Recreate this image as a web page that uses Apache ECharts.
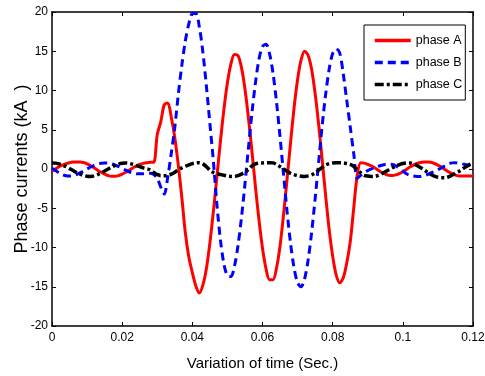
<!DOCTYPE html>
<html>
<head>
<meta charset="utf-8">
<script src="https://cdn.jsdelivr.net/npm/echarts@6/dist/echarts.min.js"></script>
<style>
html,body{margin:0;padding:0;background:#fff;}
#chart{width:485px;height:376px;}
</style>
</head>
<body>
<div id="chart"></div>
<script>
// time in milliseconds
const timeMs = [0,1,2,3,4,5,6,7,8,9,10,11,12,13,14,15,16,17,18,19,20,21,22,23,24,25,26,27,28,29,30,31,32,33,34,35,36,37,38,39,40,41,42,43,44,45,46,47,48,49,50,51,52,53,54,55,56,57,58,59,60,61,62,63,64,65,66,67,68,69,70,71,72,73,74,75,76,77,78,79,80,81,82,83,84,85,86,87,88,89,90,91,92,93,94,95,96,97,98,99,100,101,102,103,104,105,106,107,108,109,110,111,112,113,114,115,116,117,118,119,120];

const phaseA = [-0.3,0.0,0.3,0.5,0.68,0.8,0.88,0.9,0.9,0.82,
  0.65,0.42,0.15,-0.15,-0.42,-0.65,-0.83,-0.93,-0.93,-0.83,
  -0.65,-0.42,-0.15,0.12,0.38,0.58,0.72,0.8,0.85,0.85,
  4.4,6.0,8.2,8.4,6.6,4.0,0.5,-3.6,-8.1,-11.2,
  -13.2,-14.9,-15.8,-14.8,-12.7,-9.45,-5.4,-1.0,3.5,7.6,
  11.0,13.4,14.6,14.45,12.95,10.2,6.5,2.2,-2.3,-6.5,
  -10.1,-12.7,-14.1,-14.1,-12.6,-9.8,-5.8,-1.3,3.4,7.8,
  11.4,13.9,15.0,14.5,12.7,9.6,5.7,1.2,-3.4,-7.7,
  -11.1,-13.5,-14.5,-13.9,-12.0,-9.3,-5.0,-0.8,0.8,0.75,
  0.6,0.4,0.15,-0.15,-0.45,-0.65,-0.8,-0.82,-0.75,-0.6,
  -0.35,-0.05,0.25,0.5,0.7,0.82,0.88,0.9,0.85,0.7,
  0.5,0.25,-0.05,-0.35,-0.6,-0.78,-0.88,-0.9,-0.9,-0.9,-0.9];

const phaseB = [0.1,-0.2,-0.5,-0.72,-0.87,-0.9,-0.85,-0.7,-0.5,-0.25,
  0.0,0.25,0.47,0.63,0.73,0.77,0.75,0.65,0.5,0.3,
  0.08,-0.15,-0.35,-0.5,-0.6,-0.62,-0.6,-0.55,-0.55,-0.7,
  -1.2,-2.3,-3.2,-1.0,2.0,5.3,9.5,13.2,16.3,18.5,
  19.8,19.8,18.1,14.9,10.6,5.8,1.0,-4.5,-9.0,-12.1,
  -13.6,-13.7,-12.4,-9.8,-6.2,-1.9,2.7,7.2,11.0,14.0,
  15.6,15.9,14.7,12.2,8.5,4.1,-0.7,-5.4,-9.5,-12.6,
  -14.5,-15.0,-14.0,-11.6,-8.1,-3.8,0.85,5.5,9.5,12.7,
  14.7,15.3,14.8,12.2,8.8,5.4,2.0,-1.2,-0.8,-0.45,
  -0.2,0.0,0.2,0.35,0.48,0.58,0.62,0.58,0.4,0.1,
  -0.25,-0.6,-0.8,-0.9,-0.95,-0.95,-0.88,-0.7,-0.5,-0.3,
  -0.1,0.15,0.4,0.65,0.78,0.8,0.75,0.65,0.55,0.45,0.35];

const phaseC = [0.77,0.75,0.65,0.5,0.3,0.05,-0.2,-0.45,-0.65,-0.82,
  -0.92,-0.94,-0.88,-0.72,-0.5,-0.25,0.0,0.25,0.47,0.63,
  0.74,0.77,0.72,0.6,0.45,0.3,0.15,0.02,-0.1,-0.45,
  -0.7,-0.85,-0.85,-0.8,-0.65,-0.4,-0.1,0.15,0.35,0.52,
  0.68,0.77,0.8,0.65,0.3,-0.15,-0.45,-0.6,-0.7,-0.8,
  -0.9,-0.94,-0.94,-0.85,-0.65,-0.4,-0.05,0.4,0.65,0.75,
  0.77,0.8,0.8,0.78,0.6,0.3,0.0,-0.3,-0.55,-0.72,
  -0.85,-0.92,-0.94,-0.88,-0.75,-0.5,-0.15,0.2,0.5,0.68,
  0.77,0.8,0.8,0.78,0.7,0.6,0.35,-0.1,-0.5,-0.8,
  -0.9,-0.94,-0.94,-0.8,-0.6,-0.35,-0.1,0.15,0.38,0.55,
  0.7,0.77,0.77,0.65,0.45,0.2,-0.1,-0.4,-0.7,-0.9,
  -1.05,-1.12,-1.12,-1.0,-0.8,-0.5,-0.3,0.0,0.3,0.55,0.75];

const seriesNames = ['phase A','phase B','phase C'];
const xTitle = 'Variation of time (Sec.)';
const yTitle = 'Phase currents (kA  )';

function pairs(vals){ return timeMs.map((t,i)=>[t/1000, vals[i]]); }

const FONT = '"Liberation Sans", Arial, sans-serif';
const chart = echarts.init(document.getElementById('chart'), null, {renderer:'canvas'});

const axisCommon = {
  axisLine:{show:true, onZero:false, lineStyle:{color:'#000', width:1.5}},
  axisTick:{show:true, inside:true, length:4, lineStyle:{color:'#000', width:1}},
  splitLine:{show:false},
  nameMoveOverlap:false
};

chart.setOption({
  animation:false,
  backgroundColor:'#fff',
  grid:{left:52, right:12, top:12, bottom:50, containLabel:false, outerBoundsMode:'none'},
  legend:{
    orient:'vertical', left:364, top:25,
    backgroundColor:'#fff',
    borderColor:'#000', borderWidth:1,
    padding:[9,3,9,9],
    itemWidth:36, itemHeight:14, itemGap:9,
    itemStyle:{opacity:0},
    lineStyle:{width:3.5},
    textStyle:{fontFamily:FONT, fontSize:12.5, color:'#000'},
    data:seriesNames
  },
  xAxis:[
    Object.assign({type:'value', min:0, max:0.12, interval:0.02, position:'bottom',
      name:xTitle, nameLocation:'middle', nameGap:30,
      nameTextStyle:{fontFamily:FONT, fontSize:15, color:'#000'},
      axisLabel:{fontFamily:FONT, fontSize:12, color:'#000', margin:6}}, axisCommon),
    Object.assign({type:'value', min:0, max:0.12, interval:0.02, position:'top',
      axisLabel:{show:false}}, axisCommon)
  ],
  yAxis:[
    Object.assign({type:'value', min:-20, max:20, interval:5, position:'left',
      name:yTitle, nameLocation:'middle', nameGap:21,
      nameTextStyle:{fontFamily:FONT, fontSize:18, color:'#000'},
      axisLabel:{fontFamily:FONT, fontSize:12, color:'#000', margin:4}}, axisCommon),
    Object.assign({type:'value', min:-20, max:20, interval:5, position:'right',
      axisLabel:{show:false}}, axisCommon)
  ],
  series:[
    {name:seriesNames[0], type:'line', data:pairs(phaseA), symbol:'none', smooth:0.3,
      lineStyle:{color:'#ff0000', width:3}, itemStyle:{color:'#ff0000'}},
    {name:seriesNames[1], type:'line', data:pairs(phaseB), symbol:'none', smooth:0.3,
      lineStyle:{color:'#0000ff', width:3, type:[8,5]}, itemStyle:{color:'#0000ff'}},
    {name:seriesNames[2], type:'line', data:pairs(phaseC), symbol:'none', smooth:0.3,
      lineStyle:{color:'#000', width:3.5, type:[9,3,3,3]}, itemStyle:{color:'#000'}}
  ]
});
</script>
</body>
</html>
